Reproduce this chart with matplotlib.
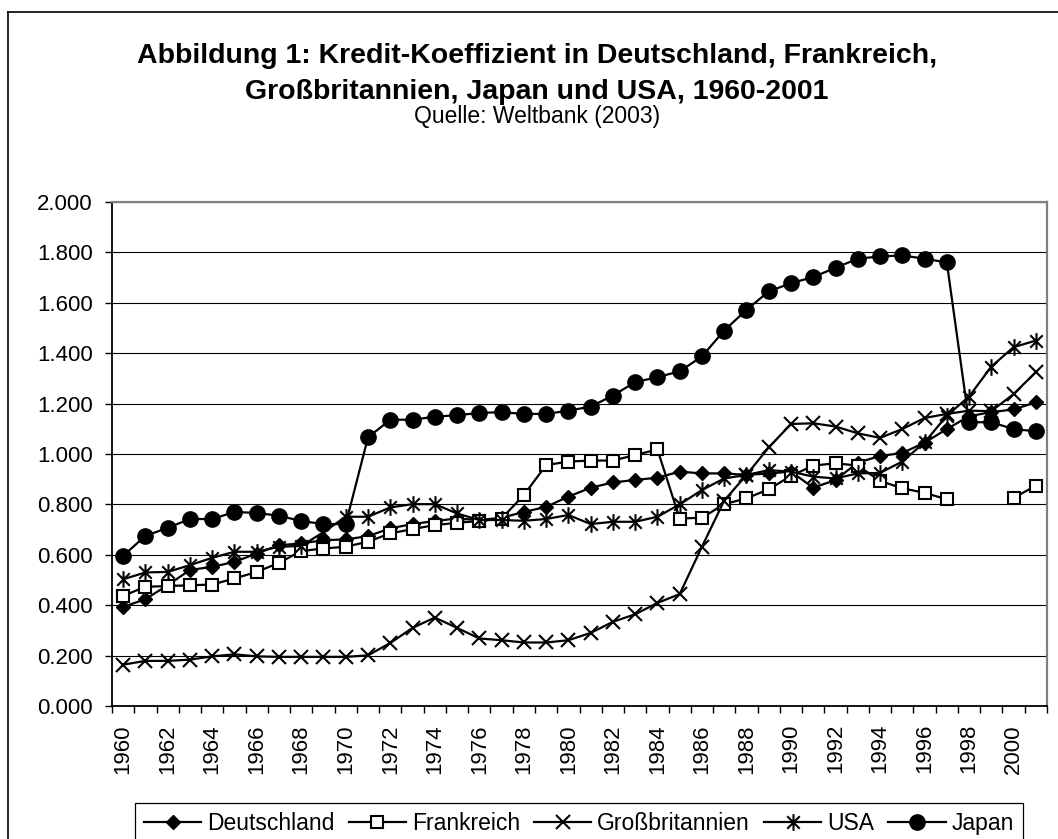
import numpy as np
import matplotlib
matplotlib.use("Agg")
import matplotlib.pyplot as plt
from matplotlib.path import Path
from matplotlib.lines import Line2D

plt.rcParams['font.family'] = ['Liberation Sans', 'DejaVu Sans']

# Kredit-Koeffizient 1960-2001
years = list(range(1960, 2002))

deutschland = [0.393, 0.424, 0.479, 0.540, 0.552, 0.572, 0.605, 0.638, 0.645, 0.658,
               0.661, 0.674, 0.705, 0.722, 0.734, 0.744, 0.738, 0.747, 0.770, 0.790,
               0.831, 0.866, 0.887, 0.897, 0.906, 0.930, 0.923, 0.923, 0.917, 0.923,
               0.930, 0.866, 0.897, 0.966, 0.992, 1.004, 1.045, 1.099, 1.150, 1.166,
               1.177, 1.205]

frankreich = [0.437, 0.473, 0.476, 0.479, 0.482, 0.506, 0.532, 0.568, 0.615, 0.625,
              0.632, 0.652, 0.685, 0.702, 0.718, 0.727, 0.734, 0.744, 0.837, 0.956,
              0.970, 0.974, 0.974, 0.996, 1.018, 0.744, 0.747, 0.801, 0.824, 0.860,
              0.913, 0.954, 0.963, 0.954, 0.893, 0.864, 0.846, 0.820, np.nan, np.nan,
              0.826, 0.874]

grossbritannien = [0.164, 0.179, 0.179, 0.184, 0.197, 0.205, 0.197, 0.195, 0.195, 0.195,
                   0.195, 0.201, 0.250, 0.310, 0.351, 0.310, 0.268, 0.261, 0.252, 0.252,
                   0.261, 0.290, 0.334, 0.364, 0.409, 0.444, 0.632, 0.815, 0.917, 1.026,
                   1.119, 1.122, 1.109, 1.082, 1.064, 1.099, 1.143, 1.159, 1.172, 1.170,
                   1.238, 1.325]

usa = [0.503, 0.530, 0.532, 0.559, 0.588, 0.612, 0.612, 0.632, 0.635, 0.690,
       0.751, 0.751, 0.788, 0.801, 0.801, 0.764, 0.738, 0.738, 0.735, 0.742,
       0.758, 0.722, 0.731, 0.731, 0.751, 0.800, 0.857, 0.903, 0.917, 0.936,
       0.930, 0.910, 0.903, 0.923, 0.925, 0.970, 1.046, 1.152, 1.228, 1.347,
       1.424, 1.450]

japan = [0.596, 0.675, 0.707, 0.742, 0.742, 0.770, 0.766, 0.755, 0.734, 0.722,
         0.722, 1.066, 1.136, 1.136, 1.148, 1.154, 1.163, 1.166, 1.159, 1.159,
         1.172, 1.188, 1.232, 1.285, 1.305, 1.328, 1.387, 1.490, 1.572, 1.645,
         1.678, 1.702, 1.739, 1.775, 1.784, 1.788, 1.775, 1.760, 1.126, 1.126,
         1.099, 1.090]

W, H = 1058, 839
fig = plt.figure(figsize=(W / 100, H / 100), dpi=100)

# plot area in pixels: left 112, right 1047, top 202, bottom 706
ax = fig.add_axes([112 / W, 1 - 706 / H, (1047 - 112) / W, (706 - 202) / H])

x = np.arange(len(years))

# excel style asterisk: vertical bar + X
asterisk = Path([(0, -1), (0, 1), (-0.75, -0.75), (0.75, 0.75), (-0.75, 0.75), (0.75, -0.75)],
                [Path.MOVETO, Path.LINETO] * 3)

lw = 1.6
ax.plot(x, deutschland, color='black', lw=lw, marker='D', ms=7.5, label='Deutschland')
ax.plot(x, frankreich, color='black', lw=lw, marker='s', ms=8, mfc='white', mew=1.5,
        label='Frankreich')
ax.plot(x, grossbritannien, color='black', lw=lw, marker='x', ms=10, mew=1.5,
        label='Großbritannien')
ax.plot(x, usa, color='black', lw=lw, marker=asterisk, ms=12, mew=1.5, mfc='none',
        label='USA')
ax.plot(x, japan, color='black', lw=lw, marker='o', ms=11, label='Japan')

ax.set_xlim(-0.5, len(years) - 0.5)
ax.set_ylim(0, 2)

ax.set_yticks(np.arange(0, 2.01, 0.2))
ax.set_yticklabels(['%.3f' % v for v in np.arange(0, 2.01, 0.2)])
ax.tick_params(axis='y', direction='out', length=5, width=1, labelsize=16, pad=9)

ax.set_xticks(x[::2])
ax.set_xticklabels([str(y) for y in years[::2]], rotation=90)
ax.set_xticks(np.arange(-0.5, len(years), 1), minor=True)
ax.tick_params(axis='x', which='major', length=0, labelsize=16, pad=13)
ax.tick_params(axis='x', which='minor', direction='out', length=5, width=1)

ax.yaxis.grid(True, color='black', lw=0.8)
ax.set_axisbelow(True)

for s in ['left', 'bottom']:
    ax.spines[s].set_color('black')
    ax.spines[s].set_linewidth(1.3)
for s in ['top', 'right']:
    ax.spines[s].set_color('#808080')
    ax.spines[s].set_linewidth(1.6)

# titles
cx = 537 / W
fig.text(cx, 1 - 63 / H, 'Abbildung 1: Kredit-Koeffizient in Deutschland, Frankreich,',
         ha='center', va='baseline', fontsize=20.5, fontweight='bold')
fig.text(cx, 1 - 99 / H, 'Großbritannien, Japan und USA, 1960-2001',
         ha='center', va='baseline', fontsize=20.5, fontweight='bold')
fig.text(cx, 1 - 123 / H, 'Quelle: Weltbank (2003)',
         ha='center', va='baseline', fontsize=16.5)

# legend box
top = 1 - 803 / H
leg = fig.legend(loc='upper left', bbox_to_anchor=(135 / W, 0, (1023 - 135) / W, top),
                 mode='expand', ncol=5, fontsize=16.5, handlelength=2.5,
                 handletextpad=0.25, borderpad=0.4, borderaxespad=0,
                 fancybox=False, framealpha=1, edgecolor='black')
leg.get_frame().set_linewidth(0.9)

# chart area border (cropped on right/bottom)
fig.add_artist(Line2D([8 / W, 8 / W], [0, 1 - 12 / H], transform=fig.transFigure,
                      color='black', lw=1.2))
fig.add_artist(Line2D([8 / W, 1], [1 - 12 / H, 1 - 12 / H], transform=fig.transFigure,
                      color='black', lw=1.2))

fig.savefig('out.png', dpi=100)
